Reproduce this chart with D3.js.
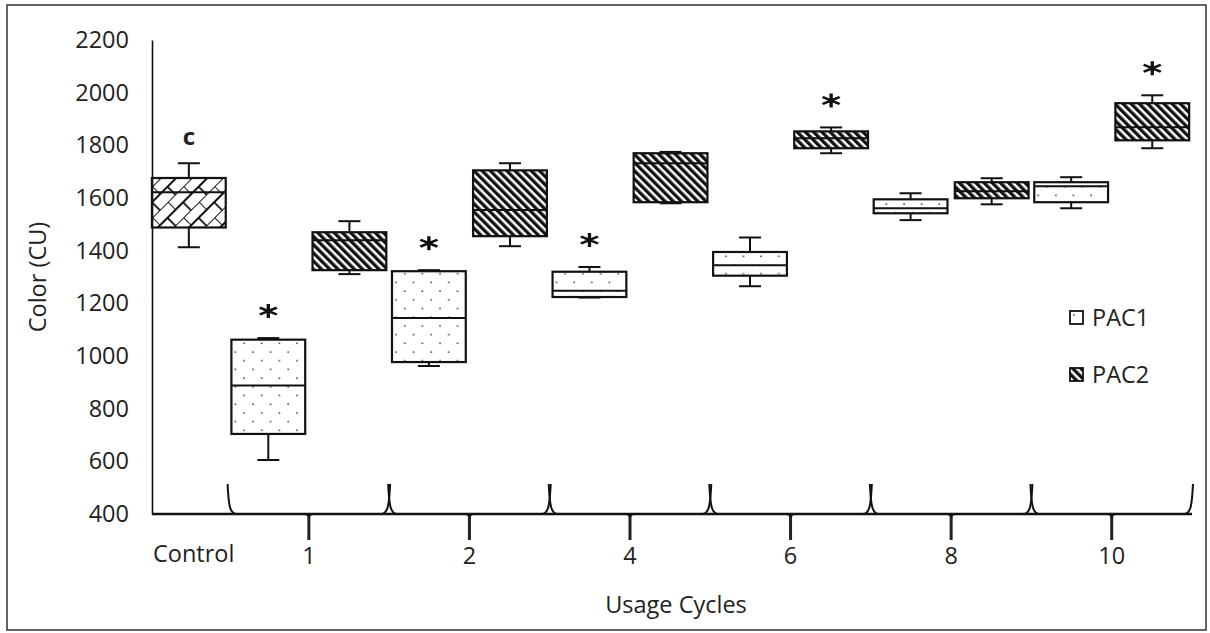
<!DOCTYPE html>
<html lang="en">
<head>
<meta charset="UTF-8">
<title>Color by usage cycle</title>
<script src="https://cdn.jsdelivr.net/npm/d3@7"></script>
<style>
  body { margin: 0; background: #fff; }
  text { font-family: "Open Sans", sans-serif; fill: #222; }
</style>
</head>
<body>
<svg id="chart" width="1210" height="633"></svg>
<script>
// data: [min, q1, median, q3, max]
const cycles = ["1", "2", "4", "6", "8", "10"];
const groups = ["PAC1", "PAC2"];
const yTicks = [400, 600, 800, 1000, 1200, 1400, 1600, 1800, 2000, 2200];
const control = [1413, 1488, 1622, 1676, 1732];
const pac1 = [
    [605, 704, 888, 1062, 1068],
    [962, 977, 1144, 1322, 1326],
    [1222, 1224, 1248, 1320, 1338],
    [1265, 1305, 1345, 1395, 1450],
    [1516, 1542, 1561, 1595, 1618],
    [1561, 1584, 1645, 1660, 1679]
];
const pac2 = [
    [1311, 1326, 1440, 1470, 1512],
    [1417, 1455, 1554, 1705, 1732],
    [1580, 1584, 1732, 1770, 1775],
    [1770, 1789, 1827, 1853, 1868],
    [1576, 1599, 1626, 1660, 1675],
    [1789, 1819, 1869, 1960, 1990]
];
const pac1Star = [true, true, true, false, false, false];
const pac2Star = [false, false, false, true, false, true];

let svg = d3.select('svg#chart');
let plot = {left: 152, right: 1192, top: 40, bottom: 514};
let fontSize = '23.5px';

// frame
svg.append('rect')
    .attr('x', 7).attr('y', 5).attr('width', 1199).attr('height', 625)
    .attr('fill', 'none').attr('stroke', '#333').attr('stroke-width', 1.5);

// patterns
let defs = svg.append('defs');
let dots = defs.append('pattern').attr('id', 'dots')
    .attr('patternUnits', 'userSpaceOnUse').attr('width', 17.6).attr('height', 17.4);
dots.append('rect').attr('width', 17.6).attr('height', 17.4).attr('fill', '#fff');
dots.append('circle').attr('cx', 4).attr('cy', 4).attr('r', 0.9).attr('fill', '#444');
dots.append('circle').attr('cx', 12.8).attr('cy', 12.7).attr('r', 0.9).attr('fill', '#444');

let stripes = defs.append('pattern').attr('id', 'stripes')
    .attr('patternUnits', 'userSpaceOnUse').attr('width', 5.8).attr('height', 10)
    .attr('patternTransform', 'rotate(-45)');
stripes.append('rect').attr('width', 5.8).attr('height', 10).attr('fill', '#fff');
stripes.append('rect').attr('width', 3.3).attr('height', 10).attr('fill', '#111');

let brick = defs.append('pattern').attr('id', 'brick')
    .attr('patternUnits', 'userSpaceOnUse').attr('width', 22).attr('height', 22)
    .attr('patternTransform', 'rotate(-45)');
brick.append('rect').attr('width', 22).attr('height', 22).attr('fill', '#fff');
brick.append('path')
    .attr('d', 'M0,0H22M0,11H22M0,0V11M11,11V22')
    .attr('stroke', '#111').attr('stroke-width', 1.8).attr('fill', 'none');

// scales
let y = d3.scaleLinear().domain([400, 2200]).range([plot.bottom, plot.top]);
let x = d3.scaleBand().domain(["Control"].concat(cycles)).range([68, plot.right]);
let xIn = d3.scaleBand().domain(groups).range([0, x.bandwidth()])
    .paddingInner(0.09).paddingOuter(0.035);

let boxes = [{cat: "Control", grp: "PAC2", s: control, fill: 'url(#brick)', mark: 'c'}];
cycles.forEach(function (c, i) {
    boxes.push({cat: c, grp: "PAC1", s: pac1[i], fill: 'url(#dots)', mark: pac1Star[i] ? '*' : null});
    boxes.push({cat: c, grp: "PAC2", s: pac2[i], fill: 'url(#stripes)', mark: pac2Star[i] ? '*' : null});
});

let bw = xIn.bandwidth();
let g = svg.selectAll('g.box').data(boxes).enter().append('g')
    .attr('class', 'box')
    .attr('transform', function (d) { return 'translate(' + (x(d.cat) + xIn(d.grp)) + ',0)'; });

g.append('line')
    .attr('x1', bw / 2).attr('x2', bw / 2)
    .attr('y1', function (d) { return y(d.s[0]); })
    .attr('y2', function (d) { return y(d.s[4]); })
    .attr('stroke', '#111').attr('stroke-width', 2);
g.selectAll('line.cap').data(function (d) { return [d.s[0], d.s[4]]; }).enter().append('line')
    .attr('class', 'cap')
    .attr('x1', bw / 2 - 11).attr('x2', bw / 2 + 11)
    .attr('y1', function (v) { return y(v); }).attr('y2', function (v) { return y(v); })
    .attr('stroke', '#111').attr('stroke-width', 2);
g.append('rect')
    .attr('width', bw)
    .attr('y', function (d) { return y(d.s[3]); })
    .attr('height', function (d) { return y(d.s[1]) - y(d.s[3]); })
    .attr('fill', function (d) { return d.fill; })
    .attr('stroke', '#111').attr('stroke-width', 2.2);
g.append('line')
    .attr('x1', 0).attr('x2', bw)
    .attr('y1', function (d) { return y(d.s[2]); })
    .attr('y2', function (d) { return y(d.s[2]); })
    .attr('stroke', '#111').attr('stroke-width', 2);

// significance marks
let star = d3.symbol().type(d3.symbolAsterisk).size(190);
g.filter(function (d) { return d.mark === '*'; }).append('path')
    .attr('d', star)
    .attr('transform', function (d) { return 'translate(' + bw / 2 + ',' + (y(d.s[4]) - 27) + ') scale(1.2,0.85)'; })
    .attr('fill', 'none').attr('stroke', '#111').attr('stroke-width', 2.8);
g.filter(function (d) { return d.mark === 'c'; }).append('text')
    .attr('x', bw / 2).attr('y', function (d) { return y(d.s[4]) - 18; })
    .attr('text-anchor', 'middle').style('font-weight', 'bold').style('font-size', '24px')
    .text('c');

// y axis
let yAxis = svg.append('g')
    .attr('transform', 'translate(' + plot.left + ',0)')
    .call(d3.axisLeft(y).tickValues(yTicks).tickFormat(d3.format('d'))
        .tickSize(0).tickSizeOuter(0).tickPadding(23));
yAxis.select('.domain').attr('stroke', '#111').attr('stroke-width', 1.6);
yAxis.selectAll('text').style('font-size', fontSize).style('font-family', '"Open Sans", sans-serif').attr('fill', '#222');

// x axis: baseline and braces
svg.append('line')
    .attr('x1', plot.left).attr('x2', plot.right)
    .attr('y1', plot.bottom).attr('y2', plot.bottom)
    .attr('stroke', '#111').attr('stroke-width', 2.4);

let tickX = function (c) { return x(c) + (xIn('PAC1') + bw + xIn('PAC2')) / 2; };
let braceTop = plot.bottom - 30, b = plot.bottom;
svg.selectAll('path.brace').data(cycles).enter().append('path')
    .attr('class', 'brace')
    .attr('d', function (c) {
        let l = x(c), r = x(c) + x.bandwidth(), t = tickX(c);
        return 'M' + (l - 1) + ',' + braceTop +
            'C' + (l) + ',' + (b - 10) + ' ' + (l + 1) + ',' + b + ' ' + (l + 8) + ',' + b +
            'L' + (t - 4) + ',' + b +
            'Q' + t + ',' + b + ' ' + t + ',' + (b + 5) +
            'Q' + t + ',' + b + ' ' + (t + 4) + ',' + b +
            'L' + (r - 8) + ',' + b +
            'C' + (r - 1) + ',' + b + ' ' + (r) + ',' + (b - 10) + ' ' + (r + 1) + ',' + braceTop;
    })
    .attr('fill', 'none').attr('stroke', '#111').attr('stroke-width', 2);
svg.selectAll('line.xtick').data(cycles).enter().append('line')
    .attr('class', 'xtick')
    .attr('x1', tickX).attr('x2', tickX)
    .attr('y1', b + 3).attr('y2', b + 26)
    .attr('stroke', '#222').attr('stroke-width', 3);

svg.selectAll('text.xlab').data(cycles).enter().append('text')
    .attr('class', 'xlab')
    .attr('x', tickX).attr('y', b + 50)
    .attr('text-anchor', 'middle').style('font-size', fontSize)
    .text(function (c) { return c; });
svg.append('text')
    .attr('x', plot.left + 1).attr('y', b + 48)
    .style('font-size', fontSize).text('Control');

// axis titles
svg.append('text')
    .attr('x', (plot.left + plot.right) / 2 + 4).attr('y', 613)
    .attr('text-anchor', 'middle').style('font-size', fontSize).text('Usage Cycles');
svg.append('text')
    .attr('transform', 'translate(46,' + ((plot.top + plot.bottom) / 2) + ') rotate(-90)')
    .attr('text-anchor', 'middle').style('font-size', fontSize).text('Color (CU)');

// legend
let legend = svg.selectAll('g.legend').data(groups).enter().append('g')
    .attr('class', 'legend')
    .attr('transform', function (d, i) { return 'translate(1070,' + (311 + i * 57) + ')'; });
legend.append('rect')
    .attr('width', 13).attr('height', 13)
    .attr('fill', function (d) { return d === 'PAC1' ? 'url(#dots)' : 'url(#stripes)'; })
    .attr('stroke', '#111').attr('stroke-width', 1.8);
legend.append('text')
    .attr('x', 22).attr('y', 15)
    .style('font-size', fontSize).text(function (d) { return d; });
</script>
</body>
</html>
